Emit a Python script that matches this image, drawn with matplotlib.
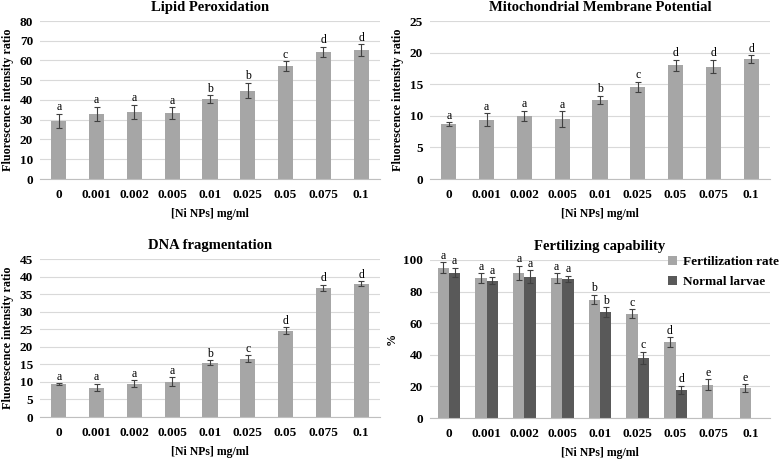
import matplotlib
matplotlib.use("Agg")
import matplotlib.pyplot as plt
import numpy as np

plt.rcParams["font.family"] = "Liberation Serif"
plt.rcParams["font.weight"] = "bold"

conc = ["0", "0.001", "0.002", "0.005", "0.01", "0.025", "0.05", "0.075", "0.1"]

lipid = [29.5, 33.0, 34.0, 33.3, 40.5, 44.8, 57.0, 64.5, 65.3]
lipid_err = [3.5, 3.5, 3.5, 3.0, 2.0, 4.0, 2.5, 2.5, 3.0]
lipid_let = ["a", "a", "a", "a", "b", "b", "c", "d", "d"]

mmp = [8.7, 9.4, 10.0, 9.5, 12.5, 14.6, 18.0, 17.8, 19.0]
mmp_err = [0.3, 1.0, 0.8, 1.2, 0.7, 0.8, 0.9, 1.1, 0.6]
mmp_let = ["a", "a", "a", "a", "b", "c", "d", "d", "d"]

dna = [9.3, 8.4, 9.5, 10.0, 15.5, 16.6, 24.6, 36.8, 38.0]
dna_err = [0.3, 1.1, 0.9, 1.3, 0.6, 1.0, 0.9, 0.9, 0.7]
dna_let = ["a", "a", "a", "a", "b", "c", "d", "d", "d"]

fert = [95.0, 88.5, 92.0, 88.5, 75.0, 66.0, 48.0, 21.0, 19.0]
fert_err = [3.5, 3.0, 4.5, 3.0, 3.0, 3.0, 3.0, 3.5, 2.5]
fert_let = ["a", "a", "a", "a", "b", "c", "d", "e", "e"]

larvae = [92.0, 87.0, 89.5, 88.0, 67.0, 38.0, 18.0]
larvae_err = [3.0, 2.0, 4.0, 2.0, 3.0, 4.0, 2.5]
larvae_let = ["a", "a", "a", "a", "b", "c", "d"]

LIGHT = "#a6a6a6"
DARK = "#595959"
W, H = 780, 461
ERR = dict(ecolor="#404040", elinewidth=0.8, capsize=2.5, capthick=0.8)


def style_axes(ax, ymax, step, title, ylabel):
    ax.set_xlim(-0.5, len(conc) - 0.5)
    ax.set_ylim(0, ymax)
    ax.set_yticks(np.arange(0, ymax + step / 2, step))
    ax.set_xticks(range(len(conc)))
    ax.set_xticklabels(conc)
    ax.yaxis.grid(True, color="#d9d9d9", linewidth=0.8)
    ax.set_axisbelow(True)
    for s in ["top", "right", "left"]:
        ax.spines[s].set_visible(False)
    ax.spines["bottom"].set_color("#bfbfbf")
    ax.tick_params(length=0, labelsize=9.5, pad=7)
    ax.tick_params(axis="y", pad=5)
    ax.set_title(title, fontsize=10.5, fontweight="bold", pad=7)
    ax.set_ylabel(ylabel, fontsize=8.7, fontweight="bold", labelpad=4)
    ax.set_xlabel("[Ni NPs] mg/ml", fontsize=8.5, fontweight="bold", labelpad=5)


def letters(ax, xs, vals, errs, labs, off):
    for x, v, e, l in zip(xs, vals, errs, labs):
        ax.text(x, v + e + off, l, ha="center", va="bottom", fontsize=8.5,
                fontweight="normal")


fig = plt.figure(figsize=(W / 100, H / 100), dpi=100)

panels = [
    (40, 179, lipid, lipid_err, lipid_let, 80, 10, "Lipid Peroxidation"),
    (430, 179, mmp, mmp_err, mmp_let, 25, 5, "Mitochondrial Membrane Potential"),
    (40, 417, dna, dna_err, dna_let, 45, 5, "DNA fragmentation"),
]
x = np.arange(len(conc))
for left, bot, vals, errs, labs, ymax, step, title in panels:
    ax = fig.add_axes([left / W, (H - bot) / H, 340 / W, 158 / H])
    ax.bar(x, vals, width=0.4, color=LIGHT, yerr=errs, error_kw=ERR)
    letters(ax, x, vals, errs, labs, ymax * 0.003)
    style_axes(ax, ymax, step, title, "Fluorescence intensity ratio")

# fertilizing capability
ax = fig.add_axes([430 / W, (H - 418) / H, 340 / W, 158 / H])
bw = 0.3
xl = np.arange(len(larvae))
ax.bar(x - bw / 2, fert, width=bw, color=LIGHT, yerr=fert_err, error_kw=ERR,
       label="Fertilization rate")
ax.bar(xl + bw / 2, larvae, width=bw, color=DARK, yerr=larvae_err, error_kw=ERR,
       label="Normal larvae")
letters(ax, x - bw / 2, fert, fert_err, fert_let, 0.3)
letters(ax, xl + bw / 2, larvae, larvae_err, larvae_let, 0.3)
style_axes(ax, 100, 20, "Fertilizing capability", "%")
ax.legend(loc="upper right", frameon=False, fontsize=9.5, handlelength=0.7,
          handleheight=0.7, handletextpad=0.4, labelspacing=0.6,
          bbox_to_anchor=(1.06, 1.1))

fig.savefig("out.png", dpi=100)
